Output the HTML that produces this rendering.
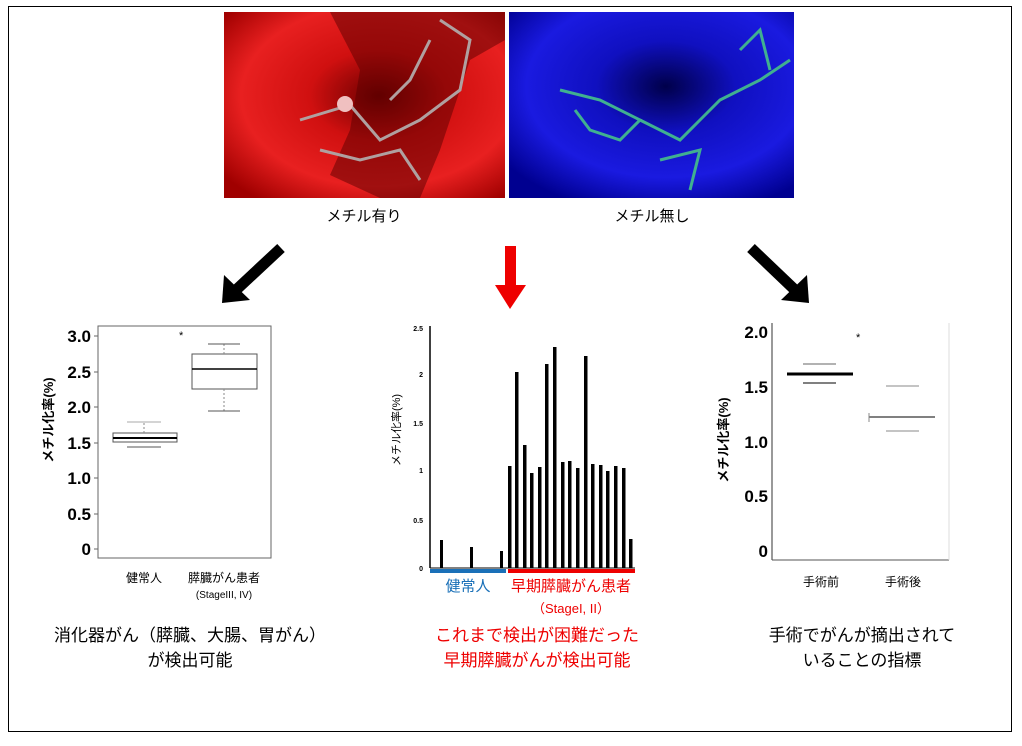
<!DOCTYPE html>
<html><head><meta charset="utf-8"><style>
body{margin:0;background:#fff;width:1022px;height:741px;overflow:hidden;font-family:"Liberation Sans","Noto Sans CJK JP",sans-serif}
svg text{font-family:"Liberation Sans","Noto Sans CJK JP",sans-serif}
</style></head><body>
<svg width="1022" height="741" viewBox="0 0 1022 741" xmlns="http://www.w3.org/2000/svg">
<defs>
<radialGradient id="rg" cx="55%" cy="45%" r="70%"><stop offset="0" stop-color="#6a0000"/><stop offset="0.35" stop-color="#d01010"/><stop offset="0.7" stop-color="#e82020"/><stop offset="1" stop-color="#a00000"/></radialGradient>
<radialGradient id="bg" cx="55%" cy="40%" r="70%"><stop offset="0" stop-color="#00004a"/><stop offset="0.35" stop-color="#1010c0"/><stop offset="0.7" stop-color="#1a1ae0"/><stop offset="1" stop-color="#000090"/></radialGradient>
</defs>
<rect x="8.5" y="6.5" width="1003" height="725" fill="none" stroke="#000" stroke-width="1"/>
<!-- images -->
<rect x="224" y="12" width="281" height="186" fill="url(#rg)"/>
<path d="M330 12 L360 70 L350 130 L330 175 L380 198 L420 198 L440 150 L470 60 L505 40 L505 12 Z" fill="#5a0000" opacity="0.5"/>
<g stroke="#b0a0a0" stroke-width="3" fill="none"><path d="M300 120 L350 105 L380 140 L420 120 L460 90 L470 40 L440 20"/><path d="M320 150 L360 160 L400 150 L420 180"/><path d="M390 100 L410 80 L430 40"/></g>
<circle cx="345" cy="104" r="8" fill="#f0c0c0"/>
<rect x="509" y="12" width="285" height="186" fill="url(#bg)"/>
<g stroke="#40b090" stroke-width="3" fill="none"><path d="M560 90 L600 100 L640 120 L620 140 L590 130 L575 110"/><path d="M640 120 L680 140 L700 120 L720 100 L760 80 L790 60"/><path d="M660 160 L700 150 L690 190"/><path d="M740 50 L760 30 L770 70"/></g>
<text x="364" y="221" font-size="15" text-anchor="middle">メチル有り</text>
<text x="652" y="221" font-size="15" text-anchor="middle">メチル無し</text>
<!-- arrows -->
<line x1="281" y1="248" x2="236" y2="290" stroke="#000" stroke-width="11"/>
<polygon points="222,303 224,275 250,300" fill="#000"/>
<line x1="751" y1="248" x2="795" y2="290" stroke="#000" stroke-width="11"/>
<polygon points="809,303 807,275 781,300" fill="#000"/>
<rect x="505" y="246" width="11" height="40" fill="#e00"/>
<polygon points="495,285 526,285 510,309" fill="#e00"/>
<!-- left chart -->
<rect x="98" y="326" width="173" height="232" fill="none" stroke="#666"/>
<g font-size="17" font-weight="bold" text-anchor="end">
<text x="91" y="342">3.0</text><text x="91" y="378">2.5</text><text x="91" y="413">2.0</text><text x="91" y="449">1.5</text><text x="91" y="484">1.0</text><text x="91" y="520">0.5</text><text x="91" y="555">0</text></g>
<g stroke="#666"><line x1="94" y1="336" x2="98" y2="336"/><line x1="94" y1="372" x2="98" y2="372"/><line x1="94" y1="407" x2="98" y2="407"/><line x1="94" y1="443" x2="98" y2="443"/><line x1="94" y1="478" x2="98" y2="478"/><line x1="94" y1="514" x2="98" y2="514"/><line x1="94" y1="549" x2="98" y2="549"/></g>
<text transform="translate(53,420) rotate(-90)" font-size="13" font-weight="bold" text-anchor="middle">メチル化率(%)</text>
<rect x="113" y="433" width="64" height="9" fill="none" stroke="#555"/>
<line x1="113" y1="438" x2="177" y2="438" stroke="#000" stroke-width="2"/>
<line x1="144" y1="423" x2="144" y2="433" stroke="#888" stroke-dasharray="2,2"/>
<line x1="127" y1="422" x2="161" y2="422" stroke="#aaa"/>
<line x1="127" y1="447" x2="161" y2="447" stroke="#555"/>
<rect x="192" y="354" width="65" height="35" fill="none" stroke="#555"/>
<line x1="192" y1="369" x2="257" y2="369" stroke="#000" stroke-width="1.5"/>
<line x1="224" y1="344" x2="224" y2="354" stroke="#888" stroke-dasharray="2,2"/>
<line x1="224" y1="389" x2="224" y2="411" stroke="#888" stroke-dasharray="2,2"/>
<line x1="208" y1="344" x2="240" y2="344" stroke="#555"/>
<line x1="208" y1="411" x2="240" y2="411" stroke="#555"/>
<text x="179" y="339" font-size="11">*</text>
<text x="144" y="582" font-size="12" text-anchor="middle">健常人</text>
<text x="224" y="582" font-size="12" text-anchor="middle">膵臓がん患者</text>
<text x="224" y="598" font-size="10" text-anchor="middle">(StageIII, IV)</text>
<!-- middle chart -->
<line x1="430" y1="326" x2="430" y2="568" stroke="#000" stroke-width="1.5"/>
<g font-size="7" font-weight="bold" text-anchor="end">
<text x="423" y="331">2.5</text><text x="423" y="377">2</text><text x="423" y="426">1.5</text><text x="423" y="473">1</text><text x="423" y="523">0.5</text><text x="423" y="571">0</text></g>
<text transform="translate(400,430) rotate(-90)" font-size="11" text-anchor="middle">メチル化率(%)</text>
<g fill="#000">
<rect x="440" y="540" width="3" height="28"/><rect x="470" y="547" width="3" height="21"/><rect x="500" y="551" width="3" height="17"/>
<rect x="508" y="466" width="3.5" height="102"/><rect x="515" y="372" width="3.5" height="196"/><rect x="523" y="445" width="3.5" height="123"/>
<rect x="530" y="473" width="3.5" height="95"/><rect x="538" y="467" width="3.5" height="101"/><rect x="545" y="364" width="3.5" height="204"/>
<rect x="553" y="347" width="3.5" height="221"/><rect x="561" y="462" width="3.5" height="106"/><rect x="568" y="461" width="3.5" height="107"/>
<rect x="576" y="468" width="3.5" height="100"/><rect x="584" y="356" width="3.5" height="212"/><rect x="591" y="464" width="3.5" height="104"/>
<rect x="599" y="465" width="3.5" height="103"/><rect x="606" y="471" width="3.5" height="97"/><rect x="614" y="466" width="3.5" height="102"/>
<rect x="622" y="468" width="3.5" height="100"/><rect x="629" y="539" width="3.5" height="29"/></g>
<line x1="430" y1="568" x2="635" y2="568" stroke="#000"/>
<rect x="430" y="569" width="76" height="4" fill="#1a70b8"/>
<rect x="508" y="569" width="127" height="4" fill="#e00"/>
<text x="468" y="591" font-size="15" fill="#1a70b8" text-anchor="middle">健常人</text>
<text x="571" y="591" font-size="15" fill="#e00" text-anchor="middle">早期膵臓がん患者</text>
<text x="571" y="613" font-size="13" fill="#e00" text-anchor="middle">（StageI, II）</text>
<!-- right chart -->
<line x1="772" y1="323" x2="772" y2="560" stroke="#333"/>
<line x1="772" y1="560" x2="949" y2="560" stroke="#555"/>
<line x1="949" y1="323" x2="949" y2="560" stroke="#ddd"/>
<g font-size="17" font-weight="bold" text-anchor="end">
<text x="768" y="338">2.0</text><text x="768" y="393">1.5</text><text x="768" y="448">1.0</text><text x="768" y="502">0.5</text><text x="768" y="557">0</text></g>
<text transform="translate(728,440) rotate(-90)" font-size="13" font-weight="bold" text-anchor="middle">メチル化率(%)</text>
<line x1="787" y1="374" x2="853" y2="374" stroke="#000" stroke-width="3"/>
<line x1="803" y1="364" x2="836" y2="364" stroke="#666"/>
<line x1="803" y1="383" x2="836" y2="383" stroke="#000"/>
<line x1="869" y1="417" x2="935" y2="417" stroke="#000"/>
<line x1="869" y1="413" x2="869" y2="422" stroke="#888"/>
<line x1="886" y1="386" x2="919" y2="386" stroke="#888"/>
<line x1="886" y1="431" x2="919" y2="431" stroke="#888"/>
<text x="856" y="341" font-size="11">*</text>
<text x="821" y="586" font-size="12" text-anchor="middle">手術前</text>
<text x="903" y="586" font-size="12" text-anchor="middle">手術後</text>
<!-- captions -->
<text x="190" y="641" font-size="17" text-anchor="middle">消化器がん（膵臓、大腸、胃がん）</text>
<text x="190" y="666" font-size="17" text-anchor="middle">が検出可能</text>
<text x="537" y="641" font-size="17" fill="#e00" text-anchor="middle">これまで検出が困難だった</text>
<text x="537" y="666" font-size="17" fill="#e00" text-anchor="middle">早期膵臓がんが検出可能</text>
<text x="862" y="641" font-size="17" text-anchor="middle">手術でがんが摘出されて</text>
<text x="862" y="666" font-size="17" text-anchor="middle">いることの指標</text>
</svg>
</body></html>
